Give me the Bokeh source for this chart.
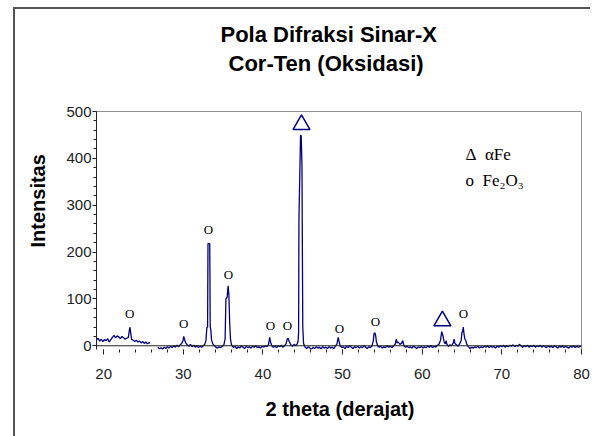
from bokeh.plotting import figure
from bokeh.models import Label, Span, FixedTicker, ColumnDataSource, Range1d, Title
from bokeh.core.properties import value
from bokeh.embed import file_html
from bokeh.resources import INLINE

# ---- data ----
theta_a = [19.1, 19.3, 19.5, 19.7, 19.9, 20.1, 20.3, 20.5, 20.7, 20.9, 21.1, 21.3, 21.5, 21.7,
           21.9, 22.1, 22.3, 22.5, 22.7, 22.9, 23.1, 23.2, 23.3, 23.4, 23.5, 23.7, 23.9, 24.1,
           24.3, 24.5, 24.7, 24.9, 25.1, 25.3, 25.5, 25.7, 25.8]
counts_a = [12, 16, 10, 14, 9, 13, 11, 15, 8, 13, 18, 22, 17, 21,
            19, 15, 20, 17, 14, 16, 18, 30, 40, 27, 14, 12, 9, 12,
            8, 10, 6, 9, 5, 8, 4, 7, 5]

theta_b = [26.8, 27.0, 27.2, 27.4, 27.6, 27.8, 28.0, 28.2, 28.4, 28.6, 28.8, 29.0, 29.2, 29.4,
           29.6, 29.8, 29.95, 30.05, 30.15, 30.3, 30.5, 30.7, 30.9, 31.1, 31.3, 31.5, 31.7, 31.9,
           32.1, 32.3, 32.5, 32.7, 32.85, 32.95, 33.05, 33.1, 33.32, 33.38, 33.45, 33.55, 33.7,
           33.9, 34.1, 34.3, 34.5, 34.7, 34.9, 35.1, 35.25, 35.35, 35.5, 35.62, 35.72, 35.82,
           35.92, 36.05, 36.3, 36.5, 36.7, 36.9, 37.1, 37.3, 37.5, 37.7, 37.9, 38.1, 38.3, 38.5,
           38.7, 38.9, 39.1, 39.3, 39.5, 39.7, 39.9, 40.1, 40.3, 40.5, 40.7, 40.85, 40.95, 41.1,
           41.3, 41.5, 41.7, 41.9, 42.1, 42.3, 42.5, 42.7, 42.9, 43.05, 43.15, 43.3, 43.5, 43.7,
           43.9, 44.1, 44.3, 44.42, 44.48, 44.52, 44.72, 44.8, 44.9, 45.0, 45.1, 45.3, 45.5,
           45.7, 45.9, 46.1, 46.3, 46.5, 46.7, 46.9, 47.1, 47.3, 47.5, 47.7, 47.9, 48.1, 48.3,
           48.5, 48.7, 48.9, 49.1, 49.3, 49.45, 49.55, 49.7, 49.9, 50.1, 50.3, 50.5, 50.7, 50.9,
           51.1, 51.3, 51.5, 51.7, 51.9, 52.1, 52.3, 52.5, 52.7, 52.9, 53.1, 53.3, 53.5, 53.7,
           53.85, 53.95, 54.05, 54.15, 54.25, 54.4, 54.6, 54.8, 55.0, 55.2, 55.4, 55.6, 55.8,
           56.0, 56.2, 56.4, 56.6, 56.75, 56.85, 57.0, 57.2, 57.4, 57.55, 57.7, 57.9, 58.1,
           58.3, 58.5, 58.7, 58.9, 59.1, 59.3, 59.5, 59.7, 59.9, 60.1, 60.3, 60.5, 60.7, 60.9,
           61.1, 61.3, 61.5, 61.7, 61.9, 62.1, 62.3, 62.45, 62.6, 62.75, 62.9, 63.0, 63.1, 63.3,
           63.5, 63.7, 63.9, 64.0, 64.1, 64.3, 64.5, 64.7, 64.9, 64.98, 65.08, 65.15, 65.25,
           65.35, 65.45, 65.6, 65.8, 66.0, 66.2, 66.4, 66.6, 66.8, 67.0, 67.2, 67.4, 67.6, 67.8,
           68.0, 68.2, 68.4, 68.6, 68.8, 69.0, 69.2, 69.4, 69.6, 69.8, 70.0, 70.2, 70.4, 70.6,
           70.8, 71.0, 71.2, 71.4, 71.6, 71.8, 72.0, 72.2, 72.4, 72.6, 72.8, 73.0, 73.2, 73.4,
           73.6, 73.8, 74.0, 74.2, 74.4, 74.6, 74.8, 75.0, 75.2, 75.4, 75.6, 75.8, 76.0, 76.2,
           76.4, 76.6, 76.8, 77.0, 77.2, 77.4, 77.6, 77.8, 78.0, 78.2, 78.4, 78.6, 78.8, 79.0,
           79.2, 79.4, 79.6, 79.8, 80.0]
counts_b = [-3, -7, -4, -8, -3, -6, -2, -5, -1, -4, 0, -3, 1, -2,
            2, 5, 10, 20, 14, 6, 2, -1, 3, -2, 1, -3, 0, -4,
            -1, -3, 0, 3, 12, 38, 40, 218, 218, 40, 35, 12, 4,
            0, -3, -5, -2, -4, -1, 2, 15, 100, 103, 128, 110, 50,
            15, 2, -4, -1, -6, -2, -5, 0, -3, -6, -1, -4, -2, -5,
            -1, -3, 0, -4, -2, -5, -1, -3, 0, -2, 3, 18, 8, 0,
            -3, -1, -4, 0, -2, 1, -3, 0, 4, 14, 16, 9, 2, -1,
            3, 0, 4, 10, 30, 270, 449, 449, 385, 40, 5, -3, -6,
            -2, -5, -8, -3, -6, -2, -5, -3, -7, -2, -5, -3, -6, -2,
            -5, -3, -6, -1, 4, 18, 10, 0, -4, -2, -6, -1, -4, 0,
            -3, -6, -2, -4, -1, -5, -2, -4, 0, -3, -6, -2, -4, 0,
            10, 26, 28, 22, 8, 0, -3, -1, -5, -2, -4, 0, -3,
            -1, -4, 0, 3, 14, 6, 8, 3, 5, 11, 0, -3, -1,
            -4, -2, -5, -1, -3, -6, -2, -4, -1, -5, -2, -4, -1, -3,
            0, -4, -1, -3, 1, 3, 12, 30, 22, 8, 4, 11, 3, -1,
            2, 0, 6, 14, 5, 2, -1, 4, 12, 28, 30, 40, 25,
            15, 12, 3, -2, -6, -3, -5, -2, -4, -1, -5, -2, -4, -1,
            -3, 0, -4, -1, -3, -2, -5, -1, -3, 0, -2, 1, -3, 0,
            -2, 1, -1, 2, -2, 1, -1, 3, 0, -3, 0, -2, 1, -3,
            0, -2, 1, -3, 0, -2, 1, -3, 0, -2, -4, 0, -3, -1,
            -4, 0, -2, -5, -1, -3, 0, -4, -1, -3, -5, -1, -3, 0,
            -4, -1, -3, -2, -1]

fe2o3_theta = [23.26, 30.04, 33.17, 35.68, 40.95, 43.09, 49.61, 54.13, 65.17]
fe2o3_mark = [68, 47, 248, 152, 43, 43, 36, 51, 68]
fe_theta = [44.84, 62.53]
fe_mark = [472, 53]

x_ticks = [20, 30, 40, 50, 60, 70, 80]
y_ticks = [0, 100, 200, 300, 400, 500]

title_lines = ["Pola Difraksi Sinar-X", "Cor-Ten (Oksidasi)"]
x_title = "2 theta (derajat)"
y_title = "Intensitas"
legend_lines = ["\u0394\u00a0\u00a0\u03b1Fe", "o\u00a0\u00a0Fe\u2082O\u2083"]

TRACE = "#000080"
SANS = "Liberation Sans"
SERIF = "Liberation Serif"

p = figure(width=590, height=436, x_range=Range1d(19.1, 80.0), y_range=Range1d(-8, 500),
           output_backend="svg", toolbar_location=None,
           min_border_left=96, min_border_right=9, min_border_top=111, min_border_bottom=87)
# outer page frame (left and top edges), drawn behind the transparent canvas border
p.styles = {"box-shadow": "inset 13px 7px 0 0 #ffffff, inset 15px 9px 0 0 #555555"}
p.outline_line_color = None
p.grid.visible = False
p.background_fill_color = "white"
p.border_fill_color = None

# title: spacer next to the frame, then line 2, then the plot title (line 1) outermost
p.add_layout(Title(text="\u00a0", text_font=SANS, text_font_size="10px", standoff=23,
                   text_color="white"), "above")
p.add_layout(Title(text=title_lines[1], align="left", offset=132, standoff=0,
                   text_font=SANS, text_font_style="bold", text_font_size="22px",
                   text_color="black"), "above")
p.title.text = title_lines[0]
p.title.align = "left"
p.title.offset = 124
p.title.standoff = 3
p.title.text_font = SANS
p.title.text_font_style = "bold"
p.title.text_font_size = "22px"
p.title.text_color = "black"

# axes
p.xaxis.ticker = FixedTicker(ticks=x_ticks, minor_ticks=list(range(20, 81, 2)))
p.yaxis.ticker = FixedTicker(ticks=y_ticks, minor_ticks=list(range(0, 501, 20)))
p.xaxis.axis_line_color = None
p.xaxis.major_tick_out = 5
p.xaxis.major_tick_in = 0
p.xaxis.minor_tick_out = 3
p.xaxis.minor_tick_in = 0
p.xaxis.major_label_standoff = 14
p.yaxis.axis_line_color = "#222222"
p.yaxis.major_tick_out = 4
p.yaxis.major_tick_in = 0
p.yaxis.minor_tick_out = 3
p.yaxis.minor_tick_in = 0
p.yaxis.major_label_standoff = 1
for ax in (p.xaxis, p.yaxis):
    ax.major_label_text_font = SANS
    ax.major_label_text_font_size = "15px"
    ax.major_label_text_color = "#222222"
    ax.major_tick_line_color = "#222222"
    ax.minor_tick_line_color = "#222222"

# axis titles
p.add_layout(Title(text=x_title, align="left", offset=169, standoff=29, text_font=SANS,
                   text_font_style="bold", text_font_size="20px", text_color="black"), "below")
p.add_layout(Title(text=y_title, align="left", offset=102, standoff=30, text_font=SANS,
                   text_font_style="bold", text_font_size="20px", text_color="black"), "left")

# frame lines: top, right and the zero line
p.add_layout(Span(location=500, dimension="width", line_color="#222222", line_width=1))
p.add_layout(Span(location=80, dimension="height", line_color="#222222", line_width=1))
p.add_layout(Span(location=0, dimension="width", line_color="#222222", line_width=1.2))

# spectrum
p.line(theta_a, counts_a, line_color=TRACE, line_width=1.3)
p.line(theta_b, counts_b, line_color=TRACE, line_width=1.3)

# peak markers
src_o = ColumnDataSource(dict(x=fe2o3_theta, y=fe2o3_mark, t=["O"] * len(fe2o3_theta)))
p.text(x="x", y="y", text="t", source=src_o, text_font=value(SERIF), text_font_size="13px",
       text_align="center", text_baseline="middle", text_color="black")
p.scatter(fe_theta, fe_mark, marker="triangle", size=17, fill_color=None,
          line_color=TRACE, line_width=1.5)

# legend text (inside the frame)
p.add_layout(Label(x=369, y=195, x_units="screen", y_units="screen", text=legend_lines[0],
                   text_font=SERIF, text_font_size="17px", text_align="left",
                   text_baseline="middle", text_color="black"))
p.add_layout(Label(x=369, y=169, x_units="screen", y_units="screen", text=legend_lines[1],
                   text_font=SERIF, text_font_size="17px", text_align="left",
                   text_baseline="middle", text_color="black"))

open("out.html", "w").write(file_html(p, INLINE))
